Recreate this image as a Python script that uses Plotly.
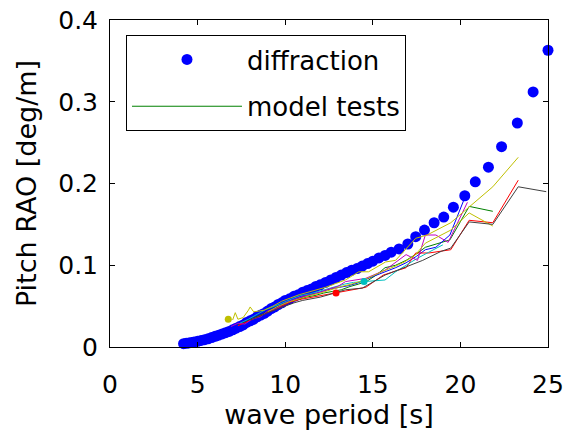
import plotly.graph_objects as go

# ---------------- data ----------------
diff_T = [4.2, 4.35, 4.5, 4.65, 4.8, 5.0, 5.2, 5.4, 5.6, 5.8, 6.0, 6.2, 6.4, 6.6, 6.8,
          7.0, 7.2, 7.4, 7.6, 7.8, 8.0, 8.2, 8.4, 8.6, 8.8, 9.0, 9.2, 9.4, 9.6, 9.8,
          10.0, 10.25, 10.5, 10.75, 11.0, 11.25, 11.5, 11.75, 12.0, 12.3, 12.6, 12.9,
          13.2, 13.5, 13.8, 14.1, 14.4, 14.7, 15.0, 15.35, 15.7, 16.05, 16.5, 17.0,
          17.45, 17.95, 18.5, 19.05, 19.6, 20.25, 20.85, 21.6, 22.35, 23.25, 24.15, 25.0]
diff_RAO = [0.004, 0.0045, 0.005, 0.0055, 0.006, 0.007, 0.008, 0.009, 0.010, 0.0115,
            0.013, 0.0145, 0.016, 0.0175, 0.019, 0.021, 0.023, 0.025, 0.027, 0.030,
            0.032, 0.034, 0.037, 0.039, 0.041, 0.044, 0.047, 0.049, 0.052, 0.054,
            0.057, 0.059, 0.062, 0.064, 0.067, 0.069, 0.071, 0.074, 0.076, 0.079,
            0.082, 0.085, 0.088, 0.091, 0.094, 0.096, 0.099, 0.102, 0.105, 0.109,
            0.112, 0.116, 0.120, 0.126, 0.135, 0.143, 0.152, 0.159, 0.171, 0.185,
            0.202, 0.220, 0.245, 0.274, 0.312, 0.363]

green_T = [7.2, 7.7, 8.2, 8.7, 9.2, 9.7, 10.2, 10.7, 11.2, 11.7, 12.2, 12.7, 13.2, 13.7,
           14.2, 14.7, 15.2, 15.7, 16.3, 16.9, 17.5, 18.0, 18.6, 19.4, 20.5, 21.85]
green_RAO = [0.027, 0.030, 0.036, 0.040, 0.046, 0.050, 0.055, 0.058, 0.061, 0.063, 0.066,
             0.068, 0.070, 0.074, 0.077, 0.081, 0.088, 0.097, 0.100, 0.106, 0.114, 0.122,
             0.126, 0.131, 0.172, 0.166]

blue_T = [7.1, 7.6, 8.1, 8.6, 9.1, 9.6, 10.1, 10.6, 11.1, 11.6, 12.1, 12.6, 13.1, 13.6,
          14.1, 14.6, 15.1, 15.7, 16.3, 16.9, 17.5, 18.0, 18.6, 19.4, 20.2]
blue_RAO = [0.026, 0.031, 0.037, 0.041, 0.048, 0.052, 0.057, 0.060, 0.062, 0.065, 0.068,
            0.071, 0.073, 0.075, 0.078, 0.083, 0.087, 0.092, 0.097, 0.103, 0.111, 0.119,
            0.122, 0.137, 0.180]

red_T = [7.3, 7.8, 8.3, 8.8, 9.3, 9.8, 10.3, 10.8, 11.3, 11.8, 12.3, 12.8, 13.3, 13.8,
         14.6, 15.6, 16.9, 17.45, 18.2, 19.45, 20.5, 21.85, 23.3]
red_RAO = [0.026, 0.031, 0.035, 0.041, 0.045, 0.050, 0.055, 0.058, 0.060, 0.062, 0.064,
           0.066, 0.068, 0.070, 0.073, 0.088, 0.097, 0.115, 0.115, 0.119, 0.155, 0.152, 0.204]

cyan_T = [7.4, 7.9, 8.4, 8.9, 9.4, 9.9, 10.4, 10.9, 11.4, 11.9, 12.4, 12.9, 13.4, 13.9,
          14.6, 15.7, 16.3, 16.9, 17.5, 18.2, 19.0]
cyan_RAO = [0.029, 0.034, 0.040, 0.046, 0.050, 0.055, 0.059, 0.063, 0.065, 0.068, 0.071,
            0.074, 0.077, 0.079, 0.080, 0.082, 0.092, 0.100, 0.108, 0.116, 0.125]

magenta_T = [6.9, 7.3, 7.7, 8.1, 8.6, 9.0, 9.5, 10.0, 10.5, 11.0, 11.5, 12.0, 12.5, 13.0,
             13.44, 14.6, 15.7, 16.9, 17.55, 18.0, 18.6, 19.3, 20.4]
magenta_RAO = [0.025, 0.029, 0.028, 0.034, 0.037, 0.044, 0.047, 0.054, 0.058, 0.062, 0.064,
               0.067, 0.071, 0.074, 0.080, 0.084, 0.094, 0.113, 0.106, 0.137, 0.137, 0.128, 0.177]

yellow_T = [7.0, 7.15, 7.3, 7.6, 7.9, 8.0, 8.2, 8.8, 9.3, 9.8, 10.3, 10.8, 11.3, 11.8,
            12.3, 12.8, 13.44, 14.2, 14.76, 15.73, 16.3, 17.45, 18.1, 19.45, 20.5, 21.85, 23.3]
yellow_RAO = [0.033, 0.042, 0.034, 0.036, 0.045, 0.049, 0.043, 0.045, 0.050, 0.056, 0.060,
              0.064, 0.067, 0.070, 0.073, 0.077, 0.082, 0.092, 0.092, 0.104, 0.106, 0.133,
              0.137, 0.152, 0.171, 0.196, 0.232]

olive_T = [9.0, 9.6, 10.2, 10.8, 11.4, 12.0, 12.6, 13.2, 13.8, 14.4, 15.0, 15.6, 16.2,
           16.8, 17.4, 18.0, 19.45, 20.5, 21.85]
olive_RAO = [0.043, 0.050, 0.055, 0.059, 0.063, 0.066, 0.070, 0.074, 0.077, 0.081, 0.087,
             0.093, 0.098, 0.104, 0.112, 0.127, 0.143, 0.164, 0.148]

gray_T = [8.0, 8.5, 9.0, 9.5, 10.0, 10.5, 11.0, 11.5, 12.0, 12.5, 13.0, 13.44, 14.4, 15.7,
          16.9, 17.85, 18.9, 19.45, 20.5, 21.85, 23.3, 24.9]
gray_RAO = [0.033, 0.037, 0.042, 0.046, 0.050, 0.054, 0.057, 0.059, 0.061, 0.064, 0.067,
            0.070, 0.072, 0.088, 0.098, 0.106, 0.117, 0.121, 0.153, 0.150, 0.196, 0.190]

single_T = [6.75, 12.9, 14.5]
single_RAO = [0.034, 0.066, 0.080]
single_colors = ["#BFBF00", "#FF0000", "#00BFBF"]

model_lines = [
    (green_T, green_RAO, "#008000"),
    (blue_T, blue_RAO, "#0000FF"),
    (red_T, red_RAO, "#FF0000"),
    (cyan_T, cyan_RAO, "#00BFBF"),
    (magenta_T, magenta_RAO, "#BF00BF"),
    (yellow_T, yellow_RAO, "#BFBF00"),
    (olive_T, olive_RAO, "#BFBF00"),
    (gray_T, gray_RAO, "#404040"),
]

FONT = "DejaVu Sans, Arial, sans-serif"
TICK_FS = 25
TITLE_FS = 27
LEG_FS = 26

fig = go.Figure()
fig.add_trace(go.Scatter(
    x=diff_T, y=diff_RAO, mode="markers", name="diffraction",
    legendgroup="a", cliponaxis=False,
    marker=dict(color="#0000FF", size=11, line=dict(width=0)),
))
for i, (tx, ty, col) in enumerate(model_lines):
    fig.add_trace(go.Scatter(
        x=tx, y=ty, mode="lines", name="model tests",
        legendgroup="b", showlegend=(i == 0),
        line=dict(color=col, width=1),
    ))
fig.add_trace(go.Scatter(
    x=single_T, y=single_RAO, mode="markers", showlegend=False,
    marker=dict(color=single_colors, size=7),
))

axis_common = dict(
    showline=True, linecolor="black", linewidth=1, mirror="ticks",
    ticks="inside", ticklen=5, tickcolor="black", tickwidth=1,
    showgrid=False, zeroline=False, automargin=False,
    ticklabeloverflow="allow",
    tickfont=dict(family=FONT, size=TICK_FS, color="black"),
)
fig.update_xaxes(range=[0, 25], dtick=5, tick0=0, ticklabelstandoff=15,
                 title=dict(text="wave period [s]", font=dict(family=FONT, size=TITLE_FS, color="black"), standoff=3),
                 **axis_common)
fig.update_yaxes(range=[0, 0.4], dtick=0.1, tick0=0, ticklabelstandoff=6,
                 title=dict(text="Pitch RAO [deg/m]", font=dict(family=FONT, size=TITLE_FS, color="black"), standoff=13),
                 **axis_common)

fig.update_layout(
    width=564, height=432,
    margin=dict(l=110, r=16, t=20, b=85),
    paper_bgcolor="white", plot_bgcolor="white",
    font=dict(family=FONT, size=LEG_FS, color="black"),
    showlegend=True,
    legend=dict(
        x=0.0365, y=0.954, xanchor="left", yanchor="top",
        bgcolor="white", bordercolor="black", borderwidth=1,
        font=dict(family=FONT, size=LEG_FS, color="black"),
        itemwidth=110, tracegroupgap=10,
    ),
)

# remove the default page margin so the figure fills the window exactly
fig.write_html(
    "out.html",
    config={"displayModeBar": False},
    post_script="document.body.style.margin='0';document.body.style.overflow='hidden';",
)
